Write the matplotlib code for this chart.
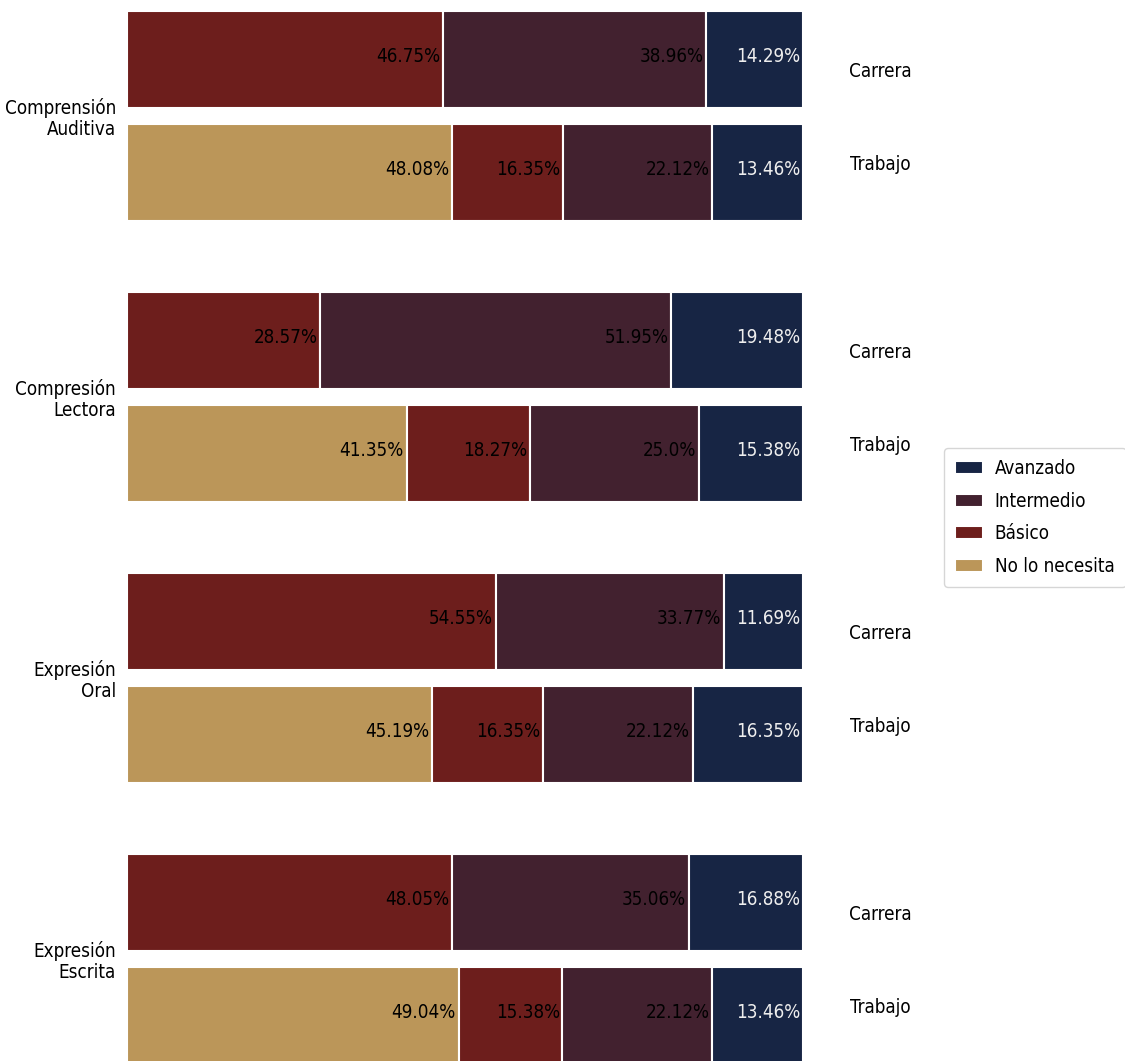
import numpy as np
import matplotlib
matplotlib.use("Agg")
import matplotlib.pyplot as plt
from matplotlib import font_manager

# ── data ─────────────────────────────────────────────────────────────────────
habilidades = ["Comprensión\nAuditiva", "Compresión\nLectora",
               "Expresión\nOral", "Expresión\nEscrita"]
niveles = ["No lo necesita", "Básico", "Intermedio", "Avanzado"]

# Carrera: no "No lo necesita" category
carrera_basico     = [46.75, 28.57, 54.55, 48.05]
carrera_intermedio = [38.96, 51.95, 33.77, 35.06]
carrera_avanzado   = [14.29, 19.48, 11.69, 16.88]

trabajo_no_necesita = [48.08, 41.35, 45.19, 49.04]
trabajo_basico      = [16.35, 18.27, 16.35, 15.38]
trabajo_intermedio  = [22.12, 25.0, 22.12, 22.12]
trabajo_avanzado    = [13.46, 15.38, 16.35, 13.46]

colores = {"No lo necesita": "#bb9659", "Básico": "#6d1e1c",
           "Intermedio": "#42212f", "Avanzado": "#172544"}

carrera = {"No lo necesita": [0, 0, 0, 0], "Básico": carrera_basico,
           "Intermedio": carrera_intermedio, "Avanzado": carrera_avanzado}
trabajo = {"No lo necesita": trabajo_no_necesita, "Básico": trabajo_basico,
           "Intermedio": trabajo_intermedio, "Avanzado": trabajo_avanzado}

# reference text is narrow: prefer a narrow/condensed face if one exists
names = {f.name for f in font_manager.fontManager.ttflist}
cond = [f for f in font_manager.fontManager.ttflist
        if f.name == "DejaVu Sans" and "condensed" in str(f.stretch)]
if "Liberation Sans Narrow" in names:
    FONT, STRETCH, FS = "Liberation Sans Narrow", "normal", 17
elif cond:
    FONT, STRETCH, FS = "DejaVu Sans", "condensed", 13.5
else:
    FONT, STRETCH, FS = "DejaVu Sans", "normal", 12
plt.rcParams["font.family"] = [FONT, "DejaVu Sans"]
plt.rcParams["font.stretch"] = STRETCH

fig = plt.figure(figsize=(11.25, 10.61), dpi=100)
ax = fig.add_axes([127 / 1125, 0, 676 / 1125, 1])

y = np.arange(len(habilidades))
off, h = 0.201, 0.345


def stacked(vals, ypos, name):
    left = np.zeros(len(habilidades))
    for nv in niveles:
        v = np.array(vals[nv], dtype=float)
        bars = ax.barh(ypos, v, left=left, height=h, color=colores[nv],
                       edgecolor="white", linewidth=1.5,
                       label=nv if name == "Trabajo" else None)
        for i, b in enumerate(bars):
            if v[i] <= 0:
                continue
            col = "#eeeeee" if nv == "Avanzado" else "black"
            ax.text(left[i] + v[i] - 0.4, ypos[i] - 0.01, f"{vals[nv][i]}%",
                    ha="right", va="center", fontsize=FS, color=col)
        left += v


stacked(carrera, y - off, "Carrera")
stacked(trabajo, y + off, "Trabajo")

for i in y:
    ax.text(111.4, i - 0.156, "Carrera", ha="center", va="center", fontsize=FS)
    ax.text(111.4, i + 0.175, "Trabajo", ha="center", va="center", fontsize=FS)

ax.set_xlim(0, 100)
ax.set_ylim((1061 - 115.75) / 281, -115.75 / 281)
ax.set_yticks(y)
ax.set_yticklabels(habilidades, fontsize=FS, ha="right", linespacing=1.1)
ax.tick_params(axis="y", length=0, pad=8)
ax.set_xticks([])
for s in ax.spines.values():
    s.set_visible(False)

handles, labels = ax.get_legend_handles_labels()
ax.legend(handles[::-1], labels[::-1], loc="upper left",
          bbox_to_anchor=((944 - 127) / 676, 1 - 448 / 1061),
          borderaxespad=0, fontsize=FS, frameon=True, labelspacing=0.72,
          handlelength=1.5, handletextpad=0.6, borderpad=0.6)

fig.savefig("out.png", dpi=100)
